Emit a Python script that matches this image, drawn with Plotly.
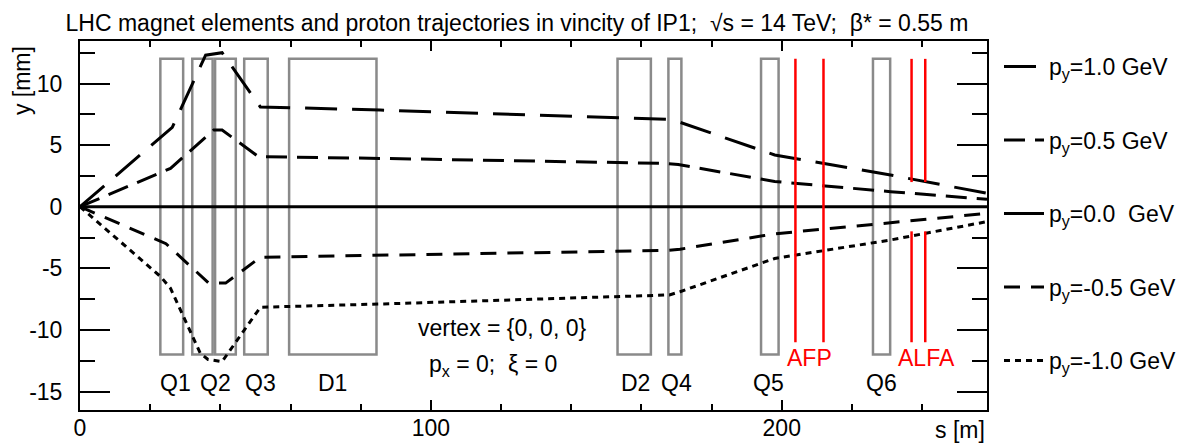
import plotly.graph_objects as go

# ---------------- data ----------------
s_p10 = [0, 26.3, 35.8, 40.5, 51.4, 85.6, 167.0, 171.0, 198.0, 231.0, 258.5]
y_p10 = [0, 6.44, 12.3, 12.5, 8.1, 7.84, 7.09, 6.85, 4.2, 2.57, 1.09]

s_p05 = [0, 25.8, 38.1, 40.5, 50.9, 85.6, 166.3, 170.5, 198.0, 231.0, 258.5]
y_p05 = [0, 3.11, 6.22, 6.22, 4.06, 3.92, 3.52, 3.42, 2.05, 1.22, 0.6]

s_p00 = [0, 258.5]
y_p00 = [0, 0]

s_m05 = [0, 24.5, 36.7, 41.5, 51.4, 86.6, 167.0, 171.0, 198.0, 231.0, 258.5]
y_m05 = [0, -3.0, -6.2, -6.2, -4.1, -3.92, -3.55, -3.45, -2.2, -1.3, -0.54]

s_m10 = [0, 23.0, 25.8, 34.3, 36.5, 40.5, 51.4, 86.6, 168.0, 171.0, 198.0, 231.0, 258.5]
y_m10 = [0, -5.68, -6.62, -11.9, -12.4, -12.57, -8.16, -7.89, -7.16, -6.9, -4.2, -2.7, -1.21]

legend_names = ["p<sub>y</sub>=1.0 GeV", "p<sub>y</sub>=0.5 GeV", "p<sub>y</sub>=0.0\u00a0 GeV",
                "p<sub>y</sub>=-0.5 GeV", "p<sub>y</sub>=-1.0 GeV"]

# magnets (s start, s end), aperture half height
magnet_start = [22.9, 32.0, 38.5, 46.8, 59.6, 153.2, 167.7, 194.1, 226.0]
magnet_end = [29.4, 37.8, 44.4, 53.5, 84.5, 162.7, 171.4, 199.1, 230.9]
magnet_half = 12.0

# detectors: s position, y extents
det_s = [203.9, 211.9, 237.0, 240.9]
det_segments = [[(-11.0, 12.0)], [(-11.0, 12.0)],
                [(2.0, 12.0), (-11.0, -2.0)], [(2.0, 12.0), (-11.0, -2.0)]]

magnet_labels = ["Q1", "Q2", "Q3", "D1", "D2", "Q4", "Q5", "Q6"]
magnet_label_s = [27.1, 38.7, 51.3, 72.1, 158.4, 170.1, 196.3, 228.5]
det_labels = ["AFP", "ALFA"]
det_label_s = [208.0, 241.2]

x_range = [0, 258.5]
y_range = [-16.5, 13.45]
x_ticks = [0, 100, 200]
x_ticktext = ["0", "100", "200"]
y_ticks = [-15, -10, -5, 0, 5, 10]
y_ticktext = ["-15", "-10", "-5", "0", "5", "10"]

FONT = "Liberation Sans, Arial, Helvetica, sans-serif"
FS = 23
GRAY = "#8a8a8a"

# page body has an 8px margin -> figure drawn at (8, 8)
W, H = 1187, 439

fig = go.Figure()

series = [
    (s_p10, y_p10, "32px,15px"),
    (s_p05, y_p05, "21px,10px"),
    (s_p00, y_p00, "solid"),
    (s_m05, y_m05, "16px,11px"),
    (s_m10, y_m10, "6px,5px"),
]
for i, ((sx, sy, dash), name) in enumerate(zip(series, legend_names)):
    fig.add_trace(go.Scatter(
        x=sx, y=sy, mode="lines", name=name, legendgroup=f"g{i}",
        line=dict(color="black", width=3, dash=dash),
    ))

shapes = []
for a, b in zip(magnet_start, magnet_end):
    shapes.append(dict(type="rect", xref="x", yref="y", x0=a, x1=b,
                       y0=-magnet_half, y1=magnet_half,
                       line=dict(color=GRAY, width=2.5), layer="below"))
for s, segs in zip(det_s, det_segments):
    for (y0, y1) in segs:
        shapes.append(dict(type="line", xref="x", yref="y", x0=s, x1=s,
                           y0=y0, y1=y1, line=dict(color="red", width=2.5)))

annotations = []
for name, s in zip(magnet_labels, magnet_label_s):
    annotations.append(dict(x=s, y=-14.3, xref="x", yref="y", text=name,
                            showarrow=False, font=dict(size=FS, color="black")))
for name, s in zip(det_labels, det_label_s):
    annotations.append(dict(x=s, y=-12.3, xref="x", yref="y", text=name,
                            showarrow=False, font=dict(size=FS, color="red")))
annotations.append(dict(x=120.2, y=-9.84, xref="x", yref="y",
                        text="vertex = {0, 0, 0}", showarrow=False,
                        font=dict(size=FS, color="black")))
annotations.append(dict(x=117.7, y=-12.85, xref="x", yref="y",
                        text="p<sub>x</sub> = 0;\u00a0 ξ = 0", showarrow=False,
                        font=dict(size=FS, color="black")))
annotations.append(dict(x=1, y=-0.054, xref="paper", yref="paper",
                        xanchor="right", yanchor="middle", text="s [m]",
                        showarrow=False, font=dict(size=FS, color="black")))
annotations.append(dict(x=-0.064, y=0.894, xref="paper", yref="paper",
                        xanchor="center", yanchor="middle", text="y [mm]",
                        textangle=-90, showarrow=False,
                        font=dict(size=FS, color="black")))

fig.update_layout(
    width=W, height=H,
    margin=dict(l=72, r=208, t=33, b=37, autoexpand=False),
    paper_bgcolor="white", plot_bgcolor="white",
    font=dict(family=FONT, size=FS, color="black"),
    title=dict(text="LHC magnet elements and proton trajectories in vincity of IP1;\u00a0 √s = 14 TeV;\u00a0 β* = 0.55 m",
               x=509 / W, xanchor="center", xref="container",
               y=1 - 15 / H, yanchor="middle", yref="container",
               font=dict(size=FS, family=FONT, color="black")),
    shapes=shapes, annotations=annotations,
    showlegend=True,
    legend=dict(x=1.0 + 12 / 907, xanchor="left", y=0.989, yanchor="top",
                tracegroupgap=40.6, font=dict(size=FS, family=FONT),
                bgcolor="rgba(0,0,0,0)", itemwidth=40),
)
fig.update_xaxes(range=x_range, tickvals=x_ticks, ticktext=x_ticktext, ticks="inside",
                 ticklen=10, tickwidth=2, tickcolor="black",
                 showline=True, linecolor="black", linewidth=2, mirror="allticks",
                 showgrid=False, zeroline=False, ticklabelstandoff=-4,
                 automargin=False,
                 minor=dict(dtick=20, tick0=0, ticks="inside", ticklen=6,
                            tickwidth=1.5, tickcolor="black", showgrid=False))
fig.update_yaxes(range=y_range, tickvals=y_ticks, ticktext=y_ticktext, ticks="inside",
                 ticklen=30, tickwidth=2, tickcolor="black",
                 showline=True, linecolor="black", linewidth=2, mirror="allticks",
                 showgrid=False, zeroline=False, ticklabelstandoff=11,
                 automargin=False,
                 minor=dict(dtick=2.5, tick0=0, ticks="inside", ticklen=15,
                            tickwidth=1.5, tickcolor="black", showgrid=False))

fig.write_html("out.html")
